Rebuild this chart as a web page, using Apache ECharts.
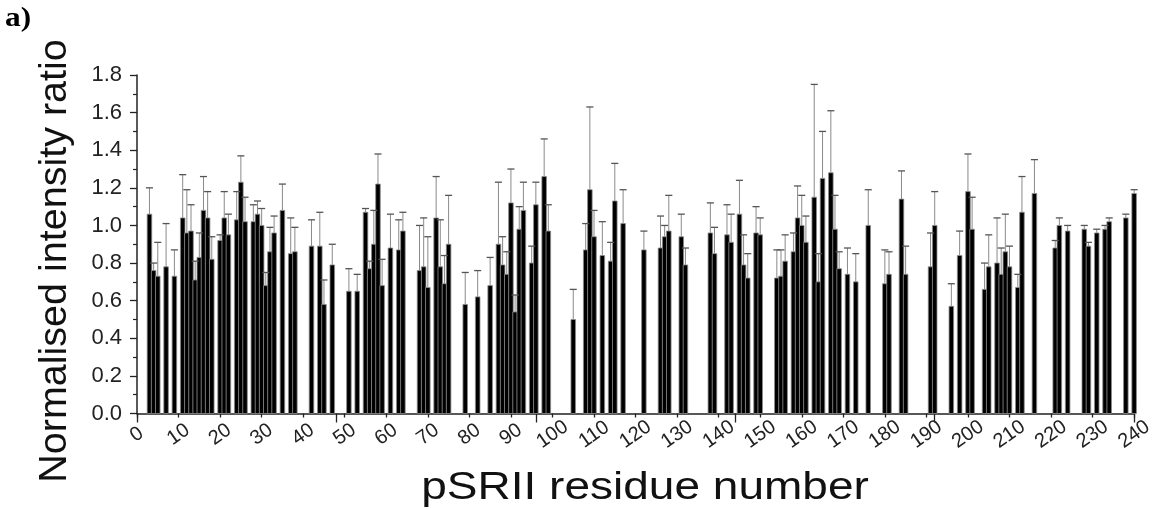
<!DOCTYPE html>
<html>
<head>
<meta charset="utf-8">
<script src="https://cdn.jsdelivr.net/npm/echarts@6/dist/echarts.min.js"></script>
<style>
html,body{margin:0;padding:0;background:#fff;}
#chart{width:1156px;height:509px;}
</style>
</head>
<body>
<div id="chart"></div>
<script>
// Residue numbers (x positions)
const residues = [3,4,5,7,9,11,12,13,14,15,16,17,18,20,21,22,24,25,26,28,29,30,31,32,33,35,37,38,42,44,45,47,51,53,55,56,57,58,59,61,63,64,68,69,70,72,73,74,75,79,82,85,87,88,89,90,91,92,93,95,96,98,99,105,108,109,110,112,114,115,117,122,126,127,128,131,132,138,139,142,143,145,146,147,149,150,154,155,156,158,159,160,161,163,164,165,167,168,169,171,173,176,180,181,184,185,191,192,196,198,200,201,204,205,207,208,209,210,212,213,216,221,222,224,228,229,231,233,234,238,240];
// Normalised intensity ratios
const ratios = [1.06,0.76,0.73,0.78,0.73,1.04,0.96,0.97,0.71,0.83,1.08,1.04,0.82,0.92,1.04,0.95,1.03,1.23,1.02,1.02,1.06,1.00,0.68,0.86,0.96,1.08,0.85,0.86,0.89,0.89,0.58,0.79,0.65,0.65,1.07,0.77,0.90,1.22,0.68,0.88,0.87,0.97,0.76,0.78,0.67,1.04,0.78,0.69,0.90,0.58,0.62,0.68,0.90,0.79,0.74,1.12,0.54,0.98,1.08,0.80,1.11,1.26,0.97,0.50,0.87,1.19,0.94,0.84,0.81,1.13,1.01,0.87,0.88,0.94,0.97,0.94,0.79,0.96,0.85,0.95,0.91,1.06,0.79,0.72,0.96,0.95,0.72,0.73,0.81,0.86,1.04,1.00,0.91,1.15,0.70,1.25,1.28,0.98,0.77,0.74,0.70,1.00,0.69,0.74,1.14,0.74,0.78,1.00,0.57,0.84,1.18,0.98,0.66,0.78,0.80,0.74,0.86,0.78,0.67,1.07,1.17,0.88,1.00,0.97,0.98,0.89,0.96,0.98,1.02,1.04,1.17];
// Upper error values
const errors = [0.14,0.04,0.18,0.23,0.14,0.23,0.23,0.14,0.10,0.13,0.18,0.14,0.12,0.03,0.14,0.11,0.15,0.14,0.13,0.09,0.07,0.09,0.07,0.13,0.09,0.14,0.19,0.13,0.14,0.18,0.13,0.11,0.12,0.09,0.02,0.04,0.18,0.16,0.14,0.18,0.16,0.10,0.24,0.26,0.27,0.22,0.25,0.15,0.26,0.17,0.14,0.15,0.33,0.15,0.12,0.18,0.09,0.12,0.15,0.09,0.12,0.20,0.14,0.16,0.14,0.44,0.14,0.18,0.10,0.20,0.18,0.10,0.17,0.06,0.19,0.12,0.09,0.16,0.14,0.16,0.15,0.18,0.16,0.13,0.14,0.09,0.15,0.14,0.14,0.10,0.17,0.16,0.14,0.60,0.15,0.25,0.33,0.18,0.09,0.14,0.15,0.19,0.18,0.12,0.15,0.15,0.18,0.18,0.12,0.13,0.20,0.17,0.14,0.17,0.24,0.14,0.20,0.11,0.07,0.19,0.18,0.04,0.04,0.03,0.02,0.02,0.02,0.02,0.02,0.02,0.02];

const xTitle = 'pSRII residue number';
const yTitle = 'Normalised intensity ratio';
const panelLabel = 'a)';

const data = residues.map((r, i) => [r, ratios[i], errors[i]]);
const sans = '"Liberation Sans", Arial, sans-serif';

const chart = echarts.init(document.getElementById('chart'));
chart.setOption({
  animation: false,
  backgroundColor: '#fff',
  grid: { left: 137, right: 6, top: 75, bottom: 95.5, containLabel: false },
  graphic: [{
    type: 'text', x: 5, y: 5, scaleX: 1.12,
    style: { text: panelLabel, font: 'bold 28px "Liberation Serif", "Times New Roman", serif', fill: '#000' }
  }, {
    type: 'text', x: 55, y: 261, rotation: Math.PI / 2,
    style: { text: yTitle, font: '39.5px ' + sans, fill: '#111', align: 'center', verticalAlign: 'middle' }
  }, {
    type: 'text', x: 645, y: 488, scaleX: 1.18,
    style: { text: xTitle, font: '39px ' + sans, fill: '#111', align: 'center', verticalAlign: 'middle' }
  }],
  xAxis: [{
    type: 'value', min: 0, max: 240, interval: 10,
    axisLine: { onZero: false, lineStyle: { color: '#222', width: 1.5 } },
    axisTick: { show: true, length: 4, lineStyle: { color: '#222', width: 1.3 } },
    axisLabel: { rotate: 35, align: 'center', verticalAlign: 'middle', fontFamily: sans, fontSize: 20, color: '#222', margin: 21 },
    splitLine: { show: false }
  }, {
    type: 'value', min: 0, max: 250, interval: 50, position: 'bottom',
    gridIndex: 0,
    axisLine: { show: false }, axisLabel: { show: false },
    axisTick: { show: true, length: 9, lineStyle: { color: '#222', width: 1.3 } },
    splitLine: { show: false }
  }],
  yAxis: {
    type: 'value', min: 0, max: 1.8, interval: 0.2,
    axisLine: { show: true, lineStyle: { color: '#222', width: 1.5 } },
    axisTick: { show: true, length: 7, lineStyle: { color: '#222', width: 1.3 } },
    minorTick: { show: true, splitNumber: 2, length: 4, lineStyle: { color: '#222', width: 1.2 } },
    axisLabel: { fontFamily: sans, fontSize: 22, color: '#222', margin: 15,
      formatter: v => v.toFixed(1) },
    splitLine: { show: false }
  },
  series: [{
    type: 'custom', xAxisIndex: 0, clip: false,
    data: data,
    encode: { x: 0, y: 1 },
    renderItem: function (params, api) {
      const x = api.value(0), v = api.value(1);
      const p0 = api.coord([x - 0.55, v]);
      const p1 = api.coord([x + 0.55, 0]);
      return { type: 'rect', shape: { x: p0[0], y: p0[1], width: p1[0] - p0[0], height: p1[1] - p0[1] },
        style: { fill: '#000', stroke: '#8c8c8c', lineWidth: 0.8 } };
    }
  }, {
    type: 'custom', xAxisIndex: 0, clip: false,
    data: data,
    encode: { x: 0, y: 1 },
    renderItem: function (params, api) {
      const x = api.value(0), v = api.value(1), e = api.value(2);
      const b = api.coord([x, v]);
      const t = api.coord([x, v + e]);
      const half = api.size([0.85, 0])[0];
      return { type: 'group', children: [
        { type: 'line', shape: { x1: b[0], y1: b[1], x2: t[0], y2: t[1] }, style: { stroke: '#8a8a8a', lineWidth: 1 } },
        { type: 'line', shape: { x1: t[0] - half, y1: t[1], x2: t[0] + half, y2: t[1] }, style: { stroke: '#555', lineWidth: 1.3 } }
      ] };
    }
  }]
});
</script>
</body>
</html>
